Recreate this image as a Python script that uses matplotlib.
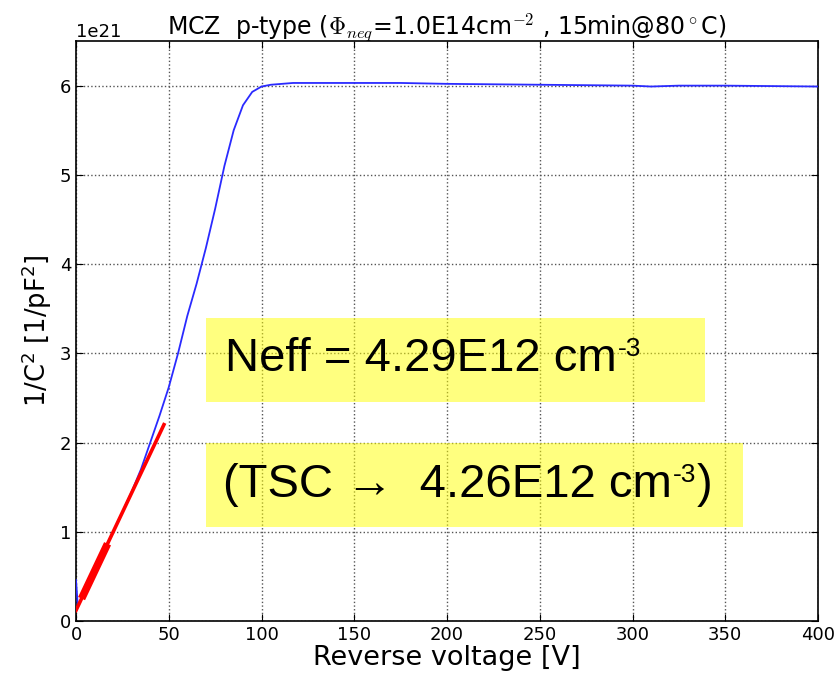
import numpy as np
import matplotlib
matplotlib.use('Agg')
from matplotlib import pyplot as plt
from matplotlib.patches import Rectangle

# measured C-V curve (reverse voltage, 1/C^2 in units of 1e21 pF^-2)
volt = [0, 1, 5, 10, 15, 20, 25, 30, 35, 40, 45, 50, 55, 60, 65, 70, 75, 80,
        85, 90, 95, 100, 105, 117, 150, 175, 200, 250, 300, 310, 325, 350, 400]
invc2 = [0.46, 0.16, 0.34, 0.56, 0.78, 1.00, 1.22, 1.45, 1.70, 2.00, 2.30, 2.62,
         3.00, 3.42, 3.78, 4.18, 4.62, 5.10, 5.50, 5.78, 5.93, 5.99, 6.01, 6.03,
         6.03, 6.03, 6.02, 6.01, 6.00, 5.99, 6.00, 6.00, 5.99]

# linear fit of the low-voltage part
fit_slope = 0.0439
fit_icpt = 0.12
fit_range = [0, 47.4]
fit_pts = [3, 17]

neff_txt = 'Neff = 4.29E12 cm'
tsc_txt = '(TSC \u2192  4.26E12 cm'

scale = 1e21
volt = np.array(volt)
invc2 = np.array(invc2) * scale

fig = plt.figure(figsize=(8.39, 6.78), dpi=100)
ax = fig.add_axes([0.0906, 0.084, 0.8844, 0.8555])

ax.plot(volt, invc2, color='#2a2aff', lw=1.3, zorder=4)
xf = np.array(fit_range)
ax.plot(xf, (fit_icpt + fit_slope * xf) * scale, color='red', lw=2.6, zorder=5)
xp = np.array(fit_pts)
ax.plot(xp, (fit_icpt + fit_slope * xp) * scale, color='red', lw=5.5, zorder=5,
        solid_capstyle='butt')

ax.set_xlim(0, 400)
ax.set_ylim(0, 6.5e21)
ax.set_xticks(np.arange(0, 401, 50))
ax.set_yticks(np.arange(0, 7, 1) * scale)
ax.grid(True, linestyle=':', color='#555555', lw=1.0, zorder=3)
ax.tick_params(direction='in', top=True, right=True, length=5, labelsize=13)
ax.yaxis.get_offset_text().set_fontsize(13)
for s in ax.spines.values():
    s.set_linewidth(1.2)

ax.set_xlabel('Reverse voltage [V]', fontsize=19.5, labelpad=1)
ax.set_ylabel('1/C$^2$ [1/pF$^2$]', fontsize=18.5, labelpad=4)
ttl = ax.set_title(r'MCZ  p-type ($\Phi_{neq}$=1.0E14cm$^{-2}$ , 15min@80$^\circ$C)',
                   fontsize=17, pad=5)
ttl.set_math_fontfamily('cm')

# highlighted result boxes
ax.add_patch(Rectangle((70.1, 2.456 * scale), 269.0, 0.944 * scale,
                       facecolor='#ffff00', alpha=0.5, edgecolor='none', zorder=2))
ax.add_patch(Rectangle((70.1, 1.054 * scale), 289.5, 0.946 * scale,
                       facecolor='#ffff00', alpha=0.5, edgecolor='none', zorder=2))

big = dict(family='Liberation Sans', fontsize=34, zorder=6)
t1 = ax.text(80.5, 2.80 * scale, neff_txt, **big)
t2 = ax.text(79.5, 1.39 * scale, tsc_txt, **big)

# superscript exponents placed right after the measured text
fig.canvas.draw()
r = fig.canvas.get_renderer()
inv = ax.transData.inverted()
for t, tail in [(t1, ''), (t2, ')')]:
    bb = t.get_window_extent(r)
    x0, _ = inv.transform((bb.x1 + 1, 0))
    sup = ax.text(x0, t.get_position()[1] + 0.17 * scale, '-3',
                  family='Liberation Sans', fontsize=19, zorder=6)
    if tail:
        bb2 = sup.get_window_extent(r)
        x1, _ = inv.transform((bb2.x1, 0))
        ax.text(x1, t.get_position()[1], tail, **big)

fig.savefig('out.png', dpi=100, facecolor='white')
